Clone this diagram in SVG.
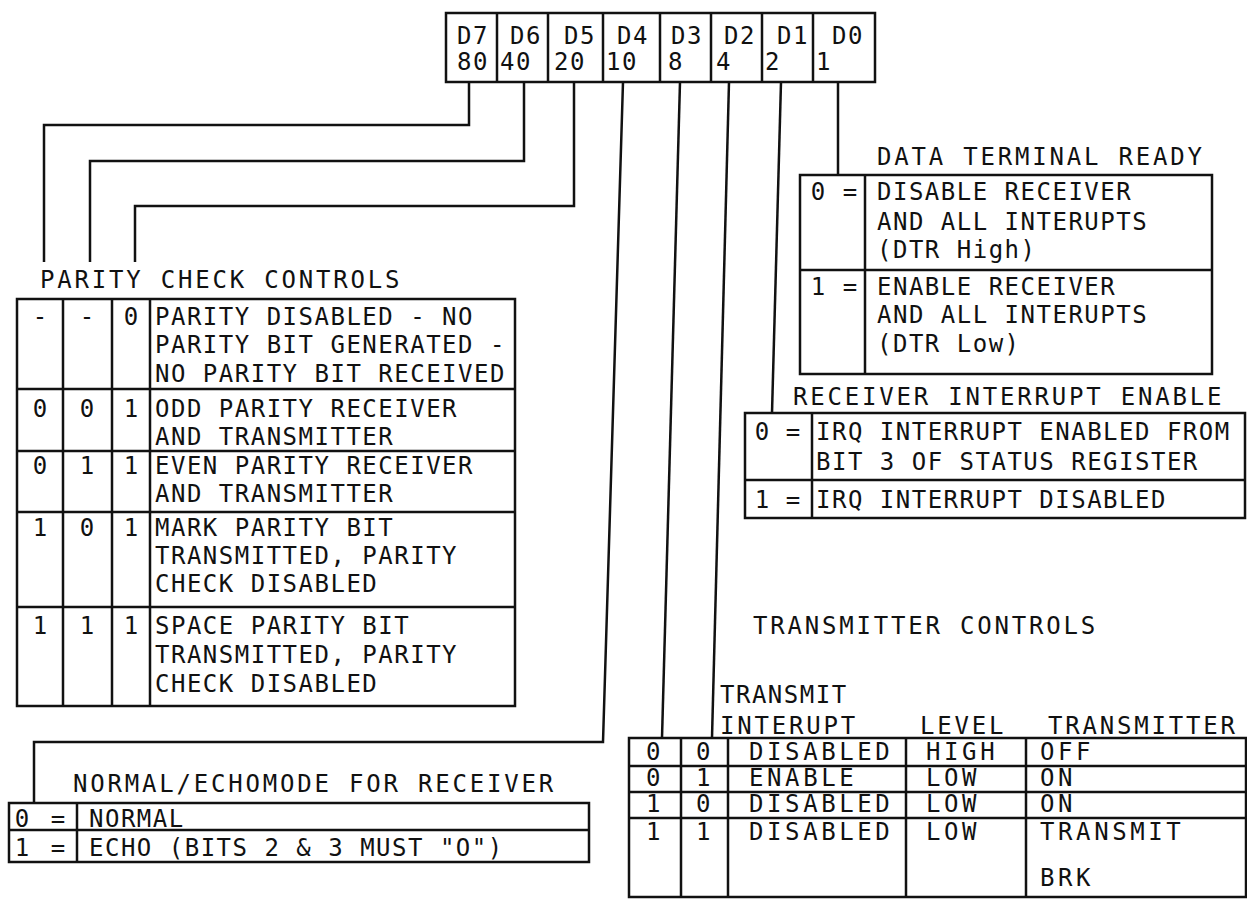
<svg xmlns="http://www.w3.org/2000/svg" width="1247" height="899" viewBox="0 0 1247 899">
<style>
text{font-family:"DejaVu Sans Mono","Liberation Mono",monospace;font-size:24px;fill:#111}
.b{letter-spacing:1.5px}
.h{letter-spacing:2.8px}
.r{font-size:26px;letter-spacing:1.5px}
.s{font-size:20px;letter-spacing:3.6px}
.c{text-anchor:middle}
.box{fill:none;stroke:#111;stroke-width:2.5}
.ln{fill:none;stroke:#111;stroke-width:2.5;stroke-linejoin:miter}
</style>
<rect width="1247" height="899" fill="#fff"/>
<g id="connectors" class="ln">
<path d="M469 82V125H44V262"/>
<path d="M524 82V161H90V262"/>
<path d="M574 82V206H135V262"/>
<path d="M623 82L603 742H34V803"/>
<path d="M680 82L662 738"/>
<path d="M729 82L712 738"/>
<path d="M781 82L772 413"/>
<path d="M838 82V175"/>
</g>
<g id="register">
<rect class="box" x="446" y="13" width="429" height="69"/>
<path class="ln" d="M497 13V82M548 13V82M603 13V82M660 13V82M711 13V82M762 13V82M813 13V82"/>
<g class="r">
<text x="457" y="44">D7</text><text x="510" y="44">D6</text><text x="564" y="44">D5</text><text x="617" y="44">D4</text>
<text x="671" y="44">D3</text><text x="724" y="44">D2</text><text x="777" y="44">D1</text><text x="832" y="44">D0</text>
<text x="457" y="70">80</text><text x="500" y="70">40</text><text x="554" y="70">20</text><text x="606" y="70">10</text>
<text x="668" y="70">8</text><text x="716" y="70">4</text><text x="765" y="70">2</text><text x="816" y="70">1</text>
</g>
</g>
<g id="parity">
<text class="h" x="40" y="288">PARITY CHECK CONTROLS</text>
<rect class="box" x="17" y="299" width="498" height="407"/>
<path class="ln" d="M63 299V706M112 299V706M150 299V706M17 389H515M17 451H515M17 512H515M17 607H515"/>
<g class="c">
<text x="40" y="325">-</text><text x="87" y="325">-</text><text x="131" y="325">0</text>
<text x="40" y="417">0</text><text x="87" y="417">0</text><text x="131" y="417">1</text>
<text x="40" y="474">0</text><text x="87" y="474">1</text><text x="131" y="474">1</text>
<text x="40" y="536">1</text><text x="87" y="536">0</text><text x="131" y="536">1</text>
<text x="40" y="634">1</text><text x="87" y="634">1</text><text x="131" y="634">1</text>
</g>
<g class="b">
<text x="155" y="325">PARITY DISABLED - NO</text>
<text x="155" y="353">PARITY BIT GENERATED -</text>
<text x="155" y="382">NO PARITY BIT RECEIVED</text>
<text x="155" y="417">ODD PARITY RECEIVER</text>
<text x="155" y="445">AND TRANSMITTER</text>
<text x="155" y="474">EVEN PARITY RECEIVER</text>
<text x="155" y="502">AND TRANSMITTER</text>
<text x="155" y="536">MARK PARITY BIT</text>
<text x="155" y="564">TRANSMITTED, PARITY</text>
<text x="155" y="592">CHECK DISABLED</text>
<text x="155" y="634">SPACE PARITY BIT</text>
<text x="155" y="663">TRANSMITTED, PARITY</text>
<text x="155" y="692">CHECK DISABLED</text>
</g>
</g>
<g id="dtr">
<text class="h" x="877" y="165">DATA TERMINAL READY</text>
<rect class="box" x="800" y="175" width="412" height="199"/>
<path class="ln" d="M865 175V374M800 270H1212"/>
<g class="c">
<text x="818" y="200">0</text><text x="850" y="200">=</text>
<text x="818" y="295">1</text><text x="850" y="295">=</text>
</g>
<g class="b">
<text x="877" y="200">DISABLE RECEIVER</text>
<text x="877" y="230">AND ALL INTERUPTS</text>
<text x="877" y="258">(DTR High)</text>
<text x="877" y="295">ENABLE RECEIVER</text>
<text x="877" y="323">AND ALL INTERUPTS</text>
<text x="877" y="352">(DTR Low)</text>
</g>
</g>
<g id="rie">
<text class="h" x="793" y="405">RECEIVER INTERRUPT ENABLE</text>
<rect class="box" x="745" y="413" width="500" height="105"/>
<path class="ln" d="M812 413V518M745 480H1245"/>
<g class="c">
<text x="762" y="440">0</text><text x="793" y="440">=</text>
<text x="762" y="508">1</text><text x="793" y="508">=</text>
</g>
<g class="b">
<text x="816" y="440">IRQ INTERRUPT ENABLED FROM</text>
<text x="816" y="470">BIT 3 OF STATUS REGISTER</text>
<text x="816" y="508">IRQ INTERRUPT DISABLED</text>
</g>
</g>
<g id="transmitter">
<text class="h" x="753" y="634">TRANSMITTER CONTROLS</text>
<text class="b" x="720" y="703">TRANSMIT</text>
<text class="h" x="720" y="734">INTERUPT</text>
<text class="h" x="920" y="734">LEVEL</text>
<text class="h" x="1048" y="734">TRANSMITTER</text>
<rect class="box" x="629" y="738" width="617" height="159"/>
<path class="ln" d="M681 738V897M728 738V897M906 738V897M1026 738V897M629 766H1246M629 792H1246M629 818H1246"/>
<g class="s c">
<text x="655" y="760">0</text><text x="705" y="760">0</text>
<text x="655" y="786">0</text><text x="705" y="786">1</text>
<text x="655" y="812">1</text><text x="705" y="812">0</text>
<text x="655" y="840">1</text><text x="705" y="840">1</text>
</g>
<g class="s">
<text x="749" y="760">DISABLED</text><text x="926" y="760">HIGH</text><text x="1040" y="760">OFF</text>
<text x="749" y="786">ENABLE</text><text x="926" y="786">LOW</text><text x="1040" y="786">ON</text>
<text x="749" y="812">DISABLED</text><text x="926" y="812">LOW</text><text x="1040" y="812">ON</text>
<text x="749" y="840">DISABLED</text><text x="926" y="840">LOW</text><text x="1040" y="840">TRANSMIT</text>
<text x="1040" y="886">BRK</text>
</g>
</g>
<g id="normal">
<text class="h" x="73" y="792">NORMAL/ECHOMODE FOR RECEIVER</text>
<rect class="box" x="9" y="803" width="580" height="59"/>
<path class="ln" d="M77 803V862M9 830H589"/>
<g class="c">
<text x="22" y="827">0</text><text x="58" y="827">=</text>
<text x="22" y="856">1</text><text x="58" y="856">=</text>
</g>
<g class="b">
<text x="89" y="827">NORMAL</text>
<text x="89" y="856">ECHO (BITS 2 &amp; 3 MUST "O")</text>
</g>
</g>
</svg>
